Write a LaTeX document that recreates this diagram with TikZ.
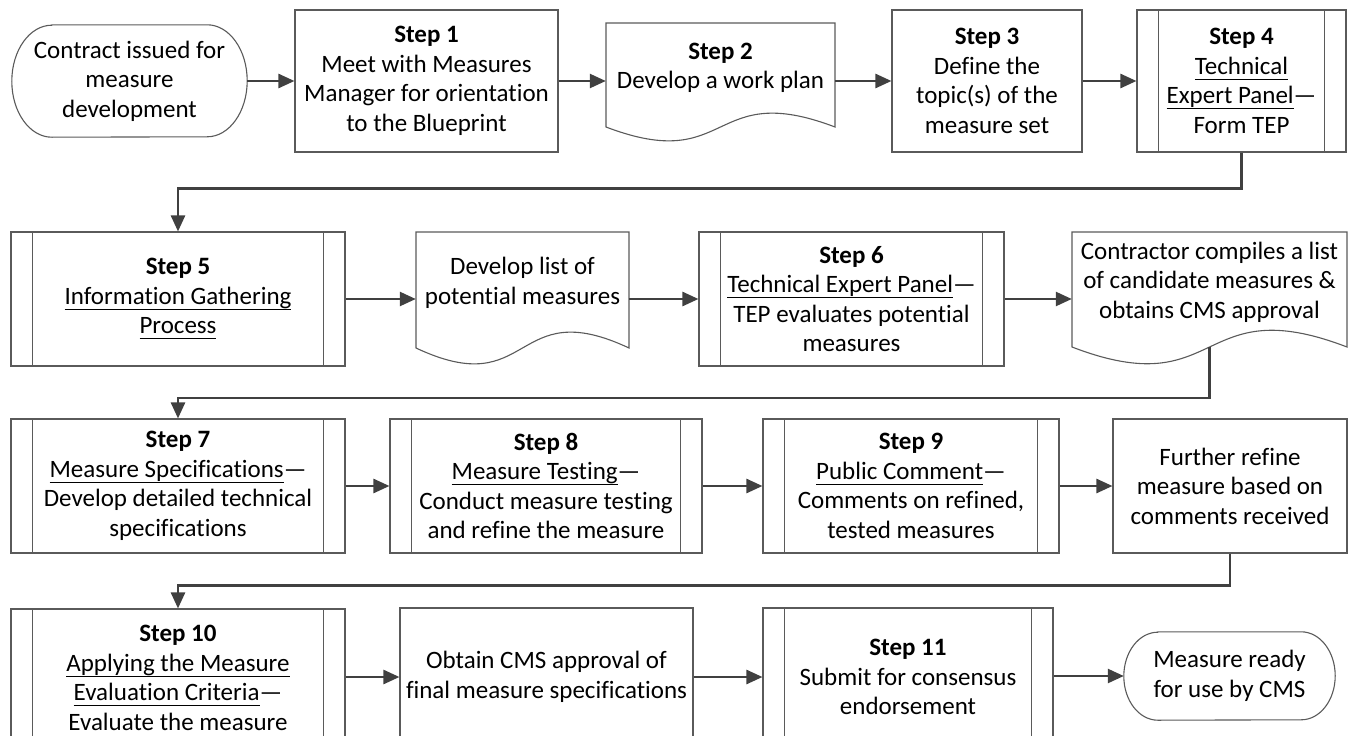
\documentclass[tikz,border=0pt]{standalone}
\usepackage{fontspec}
\setmainfont{Carlito}[Ligatures={NoCommon}]
\newcommand{\myul}[1]{\setbox0\hbox{#1}\rlap{\rule[-5.5pt]{\wd0}{1.3pt}}\box0}
\usetikzlibrary{arrows.meta}
\definecolor{bord}{HTML}{5A5A5A}
\definecolor{conn}{HTML}{404040}
\tikzset{
  base/.style={font=\fontsize{25}{29.5}\selectfont, align=center, inner sep=0pt, text=black},
  box/.style={base, draw=bord, line width=1.1pt},
  ghost/.style={base},
  outline/.style={draw=bord, line width=1.1pt},
  flow/.style={draw=conn, line width=2.5pt, -{Triangle[length=16pt,width=14pt]}}
}
\begin{document}
\begin{tikzpicture}[x=1pt,y=-1pt]
\useasboundingbox (0,0) rectangle (1349,736);
\clip (0,0) rectangle (1349,736);
% ---------- row 1
\node[ghost, minimum width=235pt, minimum height=112pt] (t1) at (129.5,81) {Contract issued for\\measure\\development};
\node[box, minimum width=263pt, minimum height=142pt] (s1) at (426.5,81) {\textbf{Step 1}\\Meet with Measures\\Manager for orientation\\to the Blueprint};
\node[ghost, minimum width=229pt, minimum height=104pt,
      label={[base, yshift=7pt]center:{\textbf{Step 2}\\Develop a work plan}}] (d0) at (720.5,75) {};
\node[box, minimum width=190pt, minimum height=142pt] (s3) at (987,81) {\textbf{Step 3}\\Define the\\topic(s) of the\\measure set};
\node[box, minimum width=209pt, minimum height=142pt] (s4) at (1241.5,81) {\textbf{Step 4}\\\myul{Technical}\\\myul{Expert Panel}—\\Form TEP};
% ---------- row 2
\node[box, minimum width=334pt, minimum height=134pt] (s5) at (178,299) {\textbf{Step 5}\\\myul{Information Gathering}\\\myul{Process}};
\node[ghost, minimum width=213pt, minimum height=116pt,
      label={[base, yshift=7pt]center:{Develop list of\\potential measures}}] (d1) at (522.5,290) {};
\node[box, minimum width=305pt, minimum height=134pt] (s6) at (851.5,299) {\textbf{Step 6}\\\myul{Technical Expert Panel}—\\TEP evaluates potential\\measures};
\node[ghost, minimum width=275pt, minimum height=115pt,
      label={[base, yshift=7.5pt]center:{Contractor compiles a list\\of candidate measures \&\\obtains CMS approval}}] (d2) at (1209.5,289.5) {};
% ---------- row 3
\node[box, minimum width=334pt, minimum height=134pt] (s7) at (178,486) {\textbf{Step 7}\\\myul{Measure Specifications}—\\Develop detailed technical\\specifications};
\node[box, minimum width=312pt, minimum height=134pt] (s8) at (546,486) {\textbf{Step 8}\\\myul{Measure Testing}—\\Conduct measure testing\\and refine the measure};
\node[box, minimum width=296pt, minimum height=134pt] (s9) at (911,486) {\textbf{Step 9}\\\myul{Public Comment}—\\Comments on refined,\\tested measures};
\node[box, minimum width=234pt, minimum height=134pt] (r1) at (1230,486) {Further refine\\measure based on\\comments received};
% ---------- row 4
\node[box, minimum width=334pt, minimum height=138pt] (s10) at (178,678) {\textbf{Step 10}\\\myul{Applying the Measure}\\\myul{Evaluation Criteria}—\\Evaluate the measure};
\node[box, minimum width=293pt, minimum height=138pt] (o1) at (546.5,677) {Obtain CMS approval of\\final measure specifications};
\node[box, minimum width=290pt, minimum height=138pt] (s11) at (908,677) {\textbf{Step 11}\\Submit for consensus\\endorsement};
\node[ghost, minimum width=211pt, minimum height=88pt] (t2) at (1229.5,676) {Measure ready\\for use by CMS};
% ---------- predefined-process side bands
\foreach \n in {s4,s5,s6,s7,s8,s9,s10,s11} {
  \draw[outline] ([xshift=22pt]\n.north west) -- ([xshift=22pt]\n.south west);
  \draw[outline] ([xshift=-22pt]\n.north east) -- ([xshift=-22pt]\n.south east);
}
% ---------- terminals
\draw[outline] ([xshift=40pt]t1.north west) -- ([xshift=-40pt]t1.north east)
  arc[start angle=90, end angle=-90, x radius=40pt, y radius=56pt]
  -- ([xshift=40pt]t1.south west)
  arc[start angle=270, end angle=90, x radius=40pt, y radius=56pt] -- cycle;
\draw[outline] ([xshift=34pt]t2.north west) -- ([xshift=-34pt]t2.north east)
  arc[start angle=90, end angle=-90, x radius=34pt, y radius=44pt]
  -- ([xshift=34pt]t2.south west)
  arc[start angle=270, end angle=90, x radius=34pt, y radius=44pt] -- cycle;
% ---------- documents
\draw[outline] (606,23) -- (835,23) -- (835,127) .. controls (709,79) and (732,175) .. (606,127) -- cycle;
\draw[outline] (416,232) -- (629,232) -- (629,348) .. controls (512,293) and (533,403) .. (416,348) -- cycle;
\draw[outline] (1072,232) -- (1347,232) -- (1347,347) .. controls (1196,289) and (1223,405) .. (1072,347) -- cycle;
\coordinate (d2out) at (1209.5,347);
% ---------- connectors
\draw[flow] (t1) -- (s1);
\draw[flow] (s1.east) -- (s1.east -| d0.west);
\draw[flow] (d0.east |- s3.west) -- (s3.west);
\draw[flow] (s3) -- (s4);
\draw[flow] (s4.south) -- ++(0,36) -| (s5.north);
\draw[flow] (s5.east) -- (s5.east -| d1.west);
\draw[flow] (d1.east |- s6.west) -- (s6.west);
\draw[flow] (s6.east) -- (s6.east -| d2.west);
\draw[flow] (d2out) -- ++(0,51) -| (s7.north);
\draw[flow] (s7) -- (s8);
\draw[flow] (s8) -- (s9);
\draw[flow] (s9) -- (r1);
\draw[flow] (r1.south) -- ++(0,32) -| (s10.north);
\draw[flow] (s10.east |- o1.west) -- (o1.west);
\draw[flow] (o1) -- (s11);
\draw[flow] (s11.east |- t2.west) -- (t2.west);
\end{tikzpicture}
\end{document}
